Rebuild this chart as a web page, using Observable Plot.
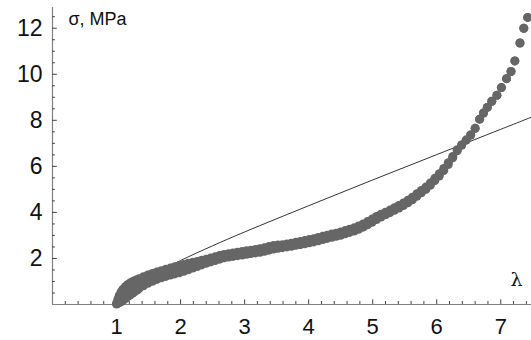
<!DOCTYPE html>
<html>
<head>
<meta charset="utf-8">
<script src="https://cdn.jsdelivr.net/npm/d3@7"></script>
<script src="https://cdn.jsdelivr.net/npm/@observablehq/plot@0.6"></script>
<style>
  html, body { margin: 0; padding: 0; background: #fff; }
  #chart svg { display: block; }
</style>
</head>
<body>
<div id="chart"></div>
<script>
// Measured stretch ratio λ with the stress σ (MPa) of two measurement passes
const lambda = [1.00,1.02,1.04,1.07,1.10,1.14,1.18,1.21,1.25,1.28,1.32,1.35,1.42,1.49,1.56,1.63,1.70,1.77,1.84,1.91,
  1.98,2.05,2.12,2.19,2.26,2.33,2.40,2.47,2.54,2.61,2.68,2.75,2.82,2.89,2.96,3.03,3.10,3.17,3.24,3.31,
  3.38,3.45,3.52,3.59,3.66,3.73,3.80,3.87,3.94,4.01,4.08,4.15,4.22,4.29,4.36,4.43,4.50,4.57,4.64,4.71,
  4.78,4.85,4.92,4.99,5.06,5.13,5.20,5.27,5.34,5.41,5.48,5.55,5.62,5.69,5.76,5.83,5.90,5.97,6.04,6.11,
  6.18,6.25,6.32,6.39,6.46,6.53,6.60,6.67,6.73,6.79,6.86,6.94,7.01,7.09,7.16,7.22,7.30,7.36,7.42];
const sigma1 = [0.05,0.22,0.38,0.55,0.66,0.78,0.87,0.93,0.99,1.03,1.08,1.12,1.21,1.28,1.35,1.41,1.47,1.53,1.58,1.64,
  1.69,1.74,1.79,1.83,1.87,1.92,1.97,2.02,2.07,2.13,2.17,2.20,2.24,2.27,2.30,2.33,2.36,2.39,2.42,2.46,
  2.52,2.56,2.58,2.60,2.63,2.66,2.70,2.74,2.78,2.82,2.86,2.91,2.96,3.01,3.06,3.10,3.15,3.21,3.27,3.33,
  3.41,3.50,3.60,3.71,3.82,3.92,4.01,4.10,4.20,4.30,4.41,4.53,4.66,4.81,4.95,5.10,5.28,5.48,5.68,5.91,
  6.16,6.43,6.72,6.93,7.14,7.36,7.65,8.05,8.32,8.56,8.83,9.09,9.42,9.81,10.12,10.58,11.36,12.00,12.47];
const sigma2 = [0.02,0.05,0.08,0.12,0.17,0.26,0.35,0.41,0.49,0.55,0.63,0.69,0.81,0.92,1.01,1.09,1.16,1.22,1.28,1.33,
  1.38,1.44,1.51,1.58,1.65,1.72,1.79,1.85,1.91,1.97,2.03,2.06,2.09,2.12,2.15,2.18,2.21,2.24,2.27,2.31,
  2.36,2.41,2.44,2.47,2.50,2.53,2.57,2.60,2.64,2.68,2.72,2.77,2.82,2.87,2.92,2.96,3.01,3.07,3.13,3.19,
  3.27,3.36,3.46,3.57,3.69,3.80,3.90,3.99,4.09,4.19,4.30,4.42,4.55,4.70,4.85,5.00,5.18,5.38,5.58,5.82,
  6.08,6.37,6.68,6.93,7.14,7.36,7.65,8.05,8.32,8.56,8.83,9.09,9.42,9.81,10.12,10.58,11.36,12.00,12.47];
// Extra readings in the early, steep part of the loading
const lambdaStart = [1.03,1.06,1.09,1.12,1.16,1.20,1.24,1.29,1.34,1.40,1.47,1.55,1.63,1.72,1.81,1.90,2.00];
const sigmaStart  = [0.15,0.30,0.42,0.52,0.60,0.67,0.74,0.81,0.88,0.97,1.06,1.15,1.24,1.32,1.40,1.47,1.54];

// Model curve (neo-Hookean fit) sampled at a few stretch ratios
const modelLambda = [1.00,1.10,1.25,1.50,1.75,2.00,2.50,3.00,4.00,5.00,6.00,7.00,7.50];
const modelSigma  = [0.00,0.30,0.67,1.15,1.55,1.91,2.55,3.15,4.29,5.41,6.51,7.61,8.16];

// Axis ticks and labels
const xMajor = [1, 2, 3, 4, 5, 6, 7];
const xMinor = [0.2,0.4,0.6,0.8,1.2,1.4,1.6,1.8,2.2,2.4,2.6,2.8,3.2,3.4,3.6,3.8,4.2,4.4,4.6,4.8,
  5.2,5.4,5.6,5.8,6.2,6.4,6.6,6.8,7.2,7.4];
const yMajor = [2, 4, 6, 8, 10, 12];
const yMinor = [0.5,1,1.5,2.5,3,3.5,4.5,5,5.5,6.5,7,7.5,8.5,9,9.5,10.5,11,11.5,12.5];
const yLabel = "σ, MPa";
const xLabel = "λ";

const points = [
  ...lambda.map((l, i) => ({l, s: sigma1[i]})),
  ...lambda.map((l, i) => ({l, s: sigma2[i]})),
  ...lambdaStart.map((l, i) => ({l, s: sigmaStart[i]}))
];
const model = modelLambda.map((l, i) => ({l, s: modelSigma[i]}));

const chart = Plot.plot({
  width: 531,
  height: 340,
  marginLeft: 52,
  marginRight: 0,
  marginTop: 7,
  marginBottom: 36,
  style: {fontFamily: "'Liberation Sans', Arial, sans-serif", background: "#fff"},
  x: {domain: [0, 7.48]},
  y: {domain: [0, 12.9]},
  marks: [
    // axis lines
    Plot.ruleY([0], {stroke: "#808080", strokeWidth: 1.2}),
    Plot.ruleX([0], {stroke: "#808080", strokeWidth: 1.2}),
    // inward ticks
    Plot.ruleX(xMajor, {y1: 0, y2: 0.2, stroke: "#444"}),
    Plot.ruleX(xMinor, {y1: 0, y2: 0.13, stroke: "#444"}),
    Plot.ruleY(yMajor, {x1: 0, x2: 0.075, stroke: "#444"}),
    Plot.ruleY(yMinor, {x1: 0, x2: 0.045, stroke: "#444"}),
    // tick labels
    Plot.axisX(xMajor, {tickSize: 0, tickPadding: 14, fontSize: 22, label: null, fill: "#111"}),
    Plot.axisY(yMajor, {tickSize: 0, tickPadding: 10, fontSize: 23, label: null, fill: "#111"}),
    // model line under the data
    Plot.line(model, {x: "l", y: "s", stroke: "#333", strokeWidth: 1, curve: "catmull-rom"}),
    // measurements
    Plot.dot(points, {x: "l", y: "s", r: 4.5, fill: "#666", stroke: "none"}),
    // axis titles
    Plot.text([yLabel], {frameAnchor: "top-left", dx: 16, dy: 5, textAnchor: "start", lineAnchor: "top",
      fontSize: 18, fill: "#111"}),
    Plot.text([xLabel], {frameAnchor: "bottom-right", dx: -9, dy: -19, textAnchor: "end", lineAnchor: "bottom",
      fontSize: 19, fontFamily: "'DejaVu Serif', serif", fill: "#111"})
  ]
});
document.getElementById("chart").append(chart);
</script>
</body>
</html>
